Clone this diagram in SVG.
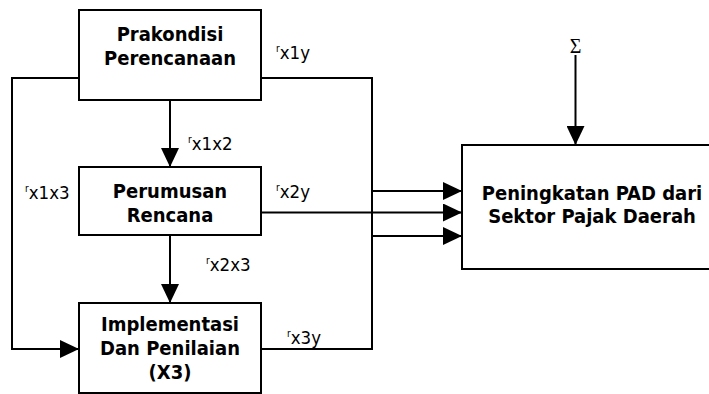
<svg xmlns="http://www.w3.org/2000/svg" width="709" height="394" viewBox="0 0 709 394">
<style>
.box{fill:#fff;stroke:#000;stroke-width:2}
.ln{fill:none;stroke:#000;stroke-width:2}
.t{font-family:"DejaVu Sans Condensed","DejaVu Sans",sans-serif;font-stretch:condensed;font-weight:bold;font-size:20px;text-anchor:middle;fill:#000}
.l{font-family:"DejaVu Sans Condensed","DejaVu Sans",sans-serif;font-stretch:condensed;font-size:18.5px;fill:#000}
.r{font-size:10px}
.s{font-family:"Liberation Serif",serif;font-size:20px;text-anchor:middle;fill:#000}
</style>
<defs>
<marker id="ah" viewBox="0 0 19 18" refX="19" refY="9" markerWidth="19" markerHeight="18" markerUnits="userSpaceOnUse" orient="auto">
<path d="M0,0 L19,9 L0,18 z" fill="#000"/>
</marker>
</defs>
<rect x="0" y="0" width="709" height="394" fill="#fff"/>
<g id="connectors">
<path class="ln" d="M170,100 V167" marker-end="url(#ah)"/>
<path class="ln" d="M170,235 V303" marker-end="url(#ah)"/>
<path class="ln" d="M79,78 H12 V349 H79" marker-end="url(#ah)"/>
<path class="ln" d="M261,78 H372 V236 H462" marker-end="url(#ah)"/>
<path class="ln" d="M261,349 H372 V191 H462" marker-end="url(#ah)"/>
<path class="ln" d="M261,212.5 H462" marker-end="url(#ah)"/>
<path class="ln" d="M575.5,55 V145" marker-end="url(#ah)"/>
</g>
<g id="n1">
<rect class="box" x="79" y="10" width="182" height="90"/>
<text class="t" x="170" y="41">Prakondisi</text>
<text class="t" x="170" y="64.5">Perencanaan</text>
</g>
<g id="n2">
<rect class="box" x="79" y="167" width="182" height="68"/>
<text class="t" x="170" y="198">Perumusan</text>
<text class="t" x="170" y="221.5">Rencana</text>
</g>
<g id="n3">
<rect class="box" x="79" y="303" width="182" height="90"/>
<text class="t" x="170" y="331">Implementasi</text>
<text class="t" x="170" y="355">Dan Penilaian</text>
<text class="t" x="170" y="378.5">(X3)</text>
</g>
<g id="n4">
<rect class="box" x="462" y="145" width="260" height="124"/>
<text class="t" x="592" y="199.5">Peningkatan PAD dari</text>
<text class="t" x="592" y="222.5">Sektor Pajak Daerah</text>
</g>
<g id="labels">
<text class="l" x="276" y="58.5"><tspan class="r" dy="-7">r</tspan><tspan dy="7">x1y</tspan></text>
<text class="l" x="188" y="150"><tspan class="r" dy="-7">r</tspan><tspan dy="7">x1x2</tspan></text>
<text class="l" x="25" y="199"><tspan class="r" dy="-7">r</tspan><tspan dy="7">x1x3</tspan></text>
<text class="l" x="276" y="198"><tspan class="r" dy="-7">r</tspan><tspan dy="7">x2y</tspan></text>
<text class="l" x="206" y="271"><tspan class="r" dy="-7">r</tspan><tspan dy="7">x2x3</tspan></text>
<text class="l" x="287" y="344"><tspan class="r" dy="-7">r</tspan><tspan dy="7">x3y</tspan></text>
<text class="s" x="575.5" y="53">Σ</text>
</g>
</svg>
